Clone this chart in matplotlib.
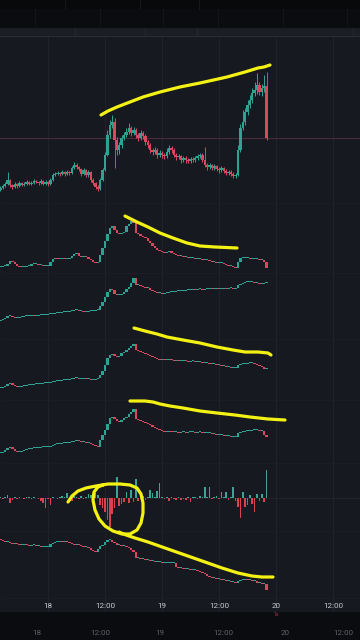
import matplotlib
matplotlib.use("Agg")
import matplotlib.pyplot as plt
import matplotlib.dates as mdates
import numpy as np
import pandas as pd
from matplotlib.patches import Rectangle
from matplotlib.lines import Line2D

# ---------------- data (30-minute candles, arbitrary units) ----------------
start_time = "2024-01-17 14:00"
n_candles = 113
tick_times = ["2024-01-18 00:00", "2024-01-18 12:00", "2024-01-19 00:00",
              "2024-01-19 12:00", "2024-01-20 00:00", "2024-01-20 12:00"]
tick_labels = ["18", "12:00", "19", "12:00", "20", "12:00"]

main_open0 = 10
main_close = [12,14,16,20,15,13,16,14,17,15,
              16,18,16,17,19,18,17,19,16,18,
              16,20,25,26,27,26,28,26,28,27,
              32,35,33,31,26,30,25,28,20,17,
              13,11,20,30,45,65,75,78,60,50,
              55,62,65,68,72,67,70,65,62,67,
              64,58,55,50,48,50,45,47,45,44,
              48,52,50,45,43,44,40,42,40,39,
              41,40,42,44,45,40,35,33,35,32,
              34,31,30,32,29,27,28,26,24,25,
              50,72,78,88,95,100,107,110,115,108,
              112,114,62]
main_high = [14,16,18,28,21,16,18,17,19,18,
             18,20,19,19,21,20,19,21,20,20,
             19,22,27,28,29,28,30,29,30,29,
             34,38,37,34,32,32,31,30,29,22,
             18,15,22,32,48,70,80,85,82,63,
             58,65,68,72,77,74,73,72,67,70,
             69,66,60,57,52,53,52,50,49,47,
             52,55,54,52,47,46,45,44,44,42,
             43,43,44,46,47,47,53,37,37,36,
             36,35,33,34,33,31,30,30,28,27,
             55,76,90,92,100,105,112,118,127,118,
             116,125,128]
main_low = [9,11,13,15,13,11,12,12,13,14,
            14,15,15,15,16,17,15,16,15,15,
            14,15,19,24,25,24,25,24,25,25,
            26,31,31,29,24,25,23,23,18,15,
            11,9,10,19,29,44,62,72,32,45,
            46,52,60,63,66,64,65,62,59,60,
            61,55,52,47,45,46,42,43,42,41,
            42,46,47,43,40,41,37,38,37,37,
            37,38,38,40,42,38,33,30,31,30,
            30,29,27,28,27,25,25,24,22,22,
            24,48,70,75,85,92,97,104,106,105,
            104,108,60]

p2_open0 = 5
p2_close = [5,6,6,8,11,10,8,6,5,5,
            5,6,6,8,8,8,7,7,6,6,
            6,10,13,14,13,13,14,13,13,14,
            16,18,19,16,15,16,15,13,12,10,
            9,10,17,24,31,38,44,46,42,39,
            38,39,40,46,48,51,49,39,38,36,
            35,34,31,29,26,24,22,21,20,19,
            20,21,19,18,17,16,16,15,15,14,
            14,14,13,13,13,12,12,12,11,10,
            10,9,9,9,8,7,6,6,5,4,
            10,14,14,14,14,13,13,13,13,12,
            12,10,4]

p3_open0 = 19
p3_close = [20,21,22,24,24,23,22,22,23,23,
            24,24,24,25,24,24,25,25,25,25,
            26,26,26,27,27,27,28,28,28,29,
            29,30,30,29,29,28,28,29,29,29,
            30,30,34,38,43,48,51,50,46,45,
            45,46,48,51,53,57,62,55,55,54,
            53,52,52,50,49,48,47,47,46,47,
            47,48,48,48,49,49,49,49,50,50,
            50,51,50,51,51,50,51,51,52,51,
            51,52,51,51,52,51,52,52,51,52,
            55,56,57,58,58,58,58,57,57,56,
            56,57,57]

p4_open0 = 12
p4_close = [12,13,14,16,17,15,14,13,13,14,
            14,15,15,15,16,16,16,16,17,17,
            17,18,18,19,19,19,20,20,20,21,
            21,22,22,21,21,22,21,21,20,20,
            21,22,25,29,35,42,45,46,44,43,
            44,47,48,50,52,54,56,50,49,48,
            47,46,45,44,43,42,41,40,41,40,
            40,41,40,39,40,39,39,40,39,38,
            39,39,38,38,38,37,37,37,36,36,
            36,35,35,34,34,33,33,32,32,32,
            35,36,36,36,37,37,37,36,35,34,
            33,31,31]

p5_open0 = 9
p5_close = [9,10,12,14,15,13,11,10,10,11,
            12,13,13,14,14,14,14,15,15,15,
            15,16,17,18,18,18,19,19,19,20,
            20,21,22,21,20,20,19,19,18,17,
            16,15,22,27,32,38,44,45,43,41,
            40,42,44,45,48,50,53,43,42,41,
            40,39,38,37,35,34,33,32,31,30,
            30,31,30,30,30,29,30,30,29,30,
            30,30,29,30,30,29,29,29,29,28,
            28,27,27,27,26,26,26,25,25,25,
            29,30,30,31,31,31,32,32,32,31,
            31,27,25]

hist_values = [1,-1,1,3,-5,-2,1,-1,1,0.5,
               -1,1,1,-1,1,0.5,-1,-3,-5,-10,
               -1,-7,1,0.5,-0.5,1,2,1,5,-4,
               -3,2,1,-1,2,-1,1,4,3,1,
               5,3,-7,-10,-14,-22,-29,-16,-10,21,
               -8,-6,-4,6,-5,8,-4,19,-3,6,
               2,-2,1,8,5,1,7,15,1,-1,
               1,-3,1,-1,-2,1,-2,-1,-2,1,
               -4,1,1,-1,2,1,11,1,11,-1,
               1,2,-1,6,1,6,-2,1,11,-3,
               -9,-20,6,-9,-7,3,-6,-14,4,-3,
               4,-4,28]

p7_open0 = 58
p7_close = [57,56,55,55,54,53,54,53,52,52,
            53,52,51,52,52,51,51,50,50,50,
            50,53,54,55,55,56,55,56,55,54,
            53,52,53,52,51,50,50,49,47,46,
            45,48,51,52,55,57,57,55,54,52,
            52,51,51,50,49,47,45,39,39,38,
            38,37,37,36,36,35,35,35,34,34,
            34,34,34,34,30,29,29,28,28,28,
            27,27,27,26,25,24,23,21,20,19,
            19,18,18,17,17,16,16,15,15,14,
            16,17,17,18,17,17,16,16,14,14,
            13,13,7]

# ---------------- style ----------------
W, H = 360, 640
BG = "#161920"
GREEN = "#2ea393"
RED = "#db475e"
YEL = "#f4f214"
GRID = "#1f222b"

plt.rcParams['font.family'] = ['Roboto', 'DejaVu Sans']

fig = plt.figure(figsize=(3.6, 6.4), dpi=100)
fig.patch.set_facecolor(BG)

def fy(y):
    return 1 - y / H

def add_rect(y0, y1, color):
    fig.add_artist(Rectangle((0, fy(y1)), 1, (y1 - y0) / H, transform=fig.transFigure,
                             facecolor=color, edgecolor='none', zorder=0))

def fig_line(xs, ys, color, lw, z=1, **kw):
    fig.add_artist(Line2D([x / W for x in xs], [fy(y) for y in ys], transform=fig.transFigure,
                          color=color, lw=lw, zorder=z, **kw))

# top screen chrome
add_rect(0, 9, "#08090b")
add_rect(9, 28, "#0b0c10")
add_rect(28, 36, "#1c1e26")
add_rect(612, 640, "#0b0c10")
for x in [65, 140, 199]:
    fig_line([x, x], [0, 9], "#15171c", 0.8)
for x in [35, 100, 163, 218, 283, 347]:
    fig_line([x, x], [9, 28], "#131519", 0.8)
for x in [75, 145, 197, 353]:
    fig_line([x, x], [28, 36], "#262830", 0.8)
fig_line([0, 360], [36, 36], "#2a2c35", 0.8)

times = pd.date_range(start_time, periods=n_candles, freq="30min")
xs = mdates.date2num(times.to_pydatetime())
day18 = mdates.date2num(pd.Timestamp("2024-01-18 00:00").to_pydatetime())
xmin = day18 - 10.105 / 24
xmax = day18 + 65.68 / 24
tick_x = mdates.date2num(pd.to_datetime(tick_times).to_pydatetime())
cw = 0.48 / 24

# background axes carrying the vertical grid
axg = fig.add_axes([0, fy(612), 1, (612 - 36) / H])
axg.set_xlim(xmin, xmax)
axg.set_ylim(0, 1)
axg.axis('off')
axg.patch.set_alpha(0)
for t in tick_x:
    axg.axvline(t, color=GRID, lw=0.8, zorder=0)

def pane(top, bottom, ylim):
    ax = fig.add_axes([0, fy(bottom), 1, (bottom - top) / H])
    ax.set_xlim(xmin, xmax)
    ax.set_ylim(*ylim)
    ax.patch.set_alpha(0)
    for s in ax.spines.values():
        s.set_visible(False)
    ax.set_xticks([])
    ax.set_yticks([])
    return ax

def candles(ax, open0, close, high=None, low=None, minh=1.0):
    c = np.asarray(close, dtype=float)
    o = np.concatenate([[open0], c[:-1]])
    up = c >= o
    cols = np.where(up, GREEN, RED)
    if high is not None:
        ax.vlines(xs, low, high, colors=cols, lw=0.7, zorder=3)
    bot = np.minimum(o, c)
    hgt = np.maximum(np.abs(c - o), minh)
    ax.bar(xs, hgt, cw, bottom=bot, color=cols, linewidth=0, zorder=4)

# pane separators (faint)
for y in [203, 273, 339, 400, 463, 531, 598]:
    fig_line([0, 360], [y, y], "#1b1e26", 0.6)

ax1 = pane(36, 200, (0, 164))
ax1.axhline(main_close[-1], color="#4a2a34", lw=0.8, zorder=2)
candles(ax1, main_open0, main_close, main_high, main_low, minh=0.8)

ax2 = pane(203, 272, (0, 69))
candles(ax2, p2_open0, p2_close)

ax3 = pane(274, 340, (0, 66))
candles(ax3, p3_open0, p3_close)

ax4 = pane(340, 400, (0, 60))
candles(ax4, p4_open0, p4_close)

ax5 = pane(400, 462, (0, 62))
candles(ax5, p5_open0, p5_close)

ax6 = pane(463, 531, (-33, 35))
hv = np.asarray(hist_values, dtype=float)
ax6.axhline(0, color="#272a34", lw=0.5, zorder=2)
ax6.bar(xs, hv, 0.36 / 24, color=np.where(hv >= 0, "#3aa596", "#d8414f"), linewidth=0, zorder=3)

ax7 = pane(531, 597, (0, 66))
candles(ax7, p7_open0, p7_close)
ax7.set_xticks(tick_x)
ax7.set_xticklabels(tick_labels)
ax7.tick_params(axis='x', length=0, pad=4.5, labelsize=5.8, labelcolor="#c9cbd2")

# small red marker under "20"
fig.text(276 / W, fy(615), "1s", ha='center', va='center', fontsize=3.8, color="#a3364a")

# faded second time row (screen beneath)
for x, lab in zip([37, 100, 160, 223, 285, 343], tick_labels):
    fig.text(x / W, fy(633), lab, ha='center', va='center', fontsize=5.8, color="#5f6168")

# ---------------- hand-drawn yellow annotations (pixel coordinates) ----------------
def stroke(pts, lw=2.3):
    fig_line([p[0] for p in pts], [p[1] for p in pts], YEL, lw, z=20,
             solid_capstyle='round', solid_joinstyle='round')

stroke([(101, 115), (108, 111), (117, 107), (130, 102), (143, 97), (160, 92), (180, 87),
        (200, 83), (227, 77), (245, 72), (258, 68), (264, 67), (270, 65)])
stroke([(125, 216), (131, 219), (137, 222), (148, 227), (160, 233), (173, 238), (187, 243),
        (200, 246), (215, 247), (237, 248)])
stroke([(134, 328), (145, 331), (157, 334), (167, 337), (183, 340), (200, 343), (217, 347),
        (233, 350), (245, 352), (258, 352), (268, 353), (271, 355)])
stroke([(130, 401), (145, 401), (153, 402), (160, 404), (170, 406), (183, 408), (200, 411),
        (217, 413), (235, 415), (250, 417), (268, 419), (285, 420)])
stroke([(68, 502), (72, 496), (78, 491), (86, 488), (96, 486), (108, 484), (120, 484),
        (130, 485), (137, 488), (141, 494), (143, 503), (143, 513), (141, 523), (137, 530),
        (130, 534), (122, 534), (113, 531), (105, 526), (99, 519), (95, 510), (93, 500),
        (94, 492), (98, 487), (103, 485)])
stroke([(119, 532), (126, 535), (135, 538), (148, 542), (165, 548), (185, 555), (205, 562),
        (222, 568), (238, 573), (252, 576), (262, 577), (273, 577)])

fig.savefig("out.png", dpi=100, facecolor=fig.get_facecolor())
